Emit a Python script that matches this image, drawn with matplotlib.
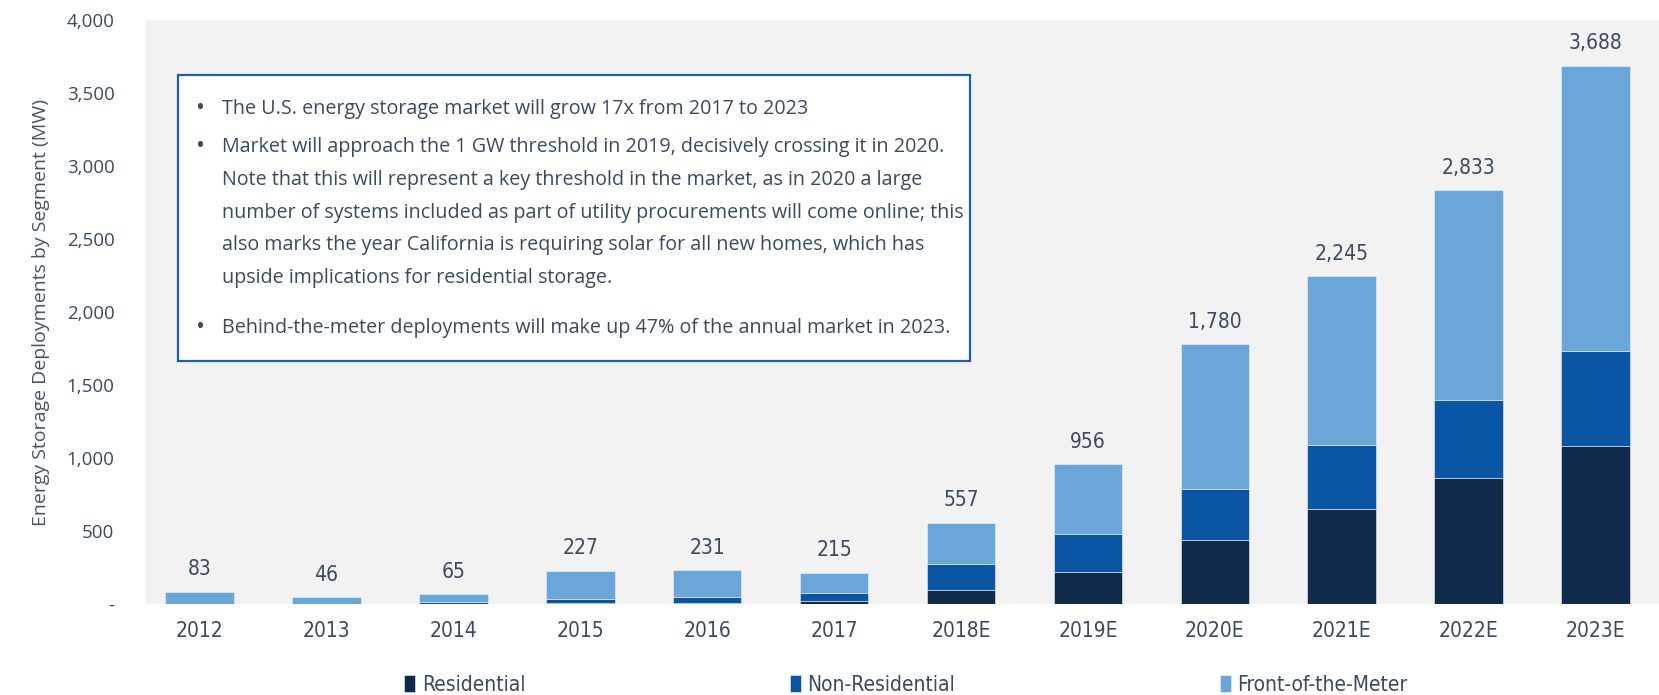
import numpy as np
import matplotlib.pyplot as plt
from matplotlib.patches import Rectangle
from matplotlib.ticker import FuncFormatter


# --------------------------------------------------
# Data (MW)
# --------------------------------------------------

years = ["2012", "2013", "2014", "2015", "2016", "2017",
         "2018E", "2019E", "2020E", "2021E", "2022E", "2023E"]

residential = [1, 1, 2, 5, 5, 18, 96, 217, 440, 648, 861, 1080]
non_residential = [1, 1, 10, 32, 44, 54, 178, 262, 348, 443, 539, 655]
totals = [83, 46, 65, 227, 231, 215, 557, 956, 1780, 2245, 2833, 3688]
front_of_meter = [t - r - n for t, r, n in zip(totals, residential, non_residential)]

bullets = [
    ["The U.S. energy storage market will grow 17x from 2017 to 2023"],
    ["Market will approach the 1 GW threshold in 2019, decisively crossing it in 2020.",
     "Note that this will represent a key threshold in the market, as in 2020 a large",
     "number of systems included as part of utility procurements will come online; this",
     "also marks the year California is requiring solar for all new homes, which has",
     "upside implications for residential storage."],
    ["Behind-the-meter deployments will make up 47% of the annual market in 2023."],
]

c_res = "#0f2a4a"
c_nonres = "#0b56a4"
c_ftm = "#6aa6d7"
text_col = "#3b4a5f"

narrow = dict(family="DejaVu Sans", stretch="condensed")
wide = ["Open Sans", "DejaVu Sans"]

# --------------------------------------------------
# Plot
# --------------------------------------------------

fig = plt.figure(figsize=(16.59, 6.95), dpi=100)
ax = fig.add_axes([0.0874, 0.131, 0.9126, 0.84])
ax.set_facecolor("#f2f2f2")

x = np.arange(len(years))
res = np.array(residential)
nonres = np.array(non_residential)
ftm = np.array(front_of_meter)

w = 0.54
ax.bar(x, res, w, color=c_res, label="Residential", edgecolor="#f2f2f2", linewidth=0.4)
ax.bar(x, nonres, w, bottom=res, color=c_nonres, label="Non-Residential",
       edgecolor="#f2f2f2", linewidth=0.4)
ax.bar(x, ftm, w, bottom=res + nonres, color=c_ftm, label="Front-of-the-Meter",
       edgecolor="#f2f2f2", linewidth=0.4)

for xi, t in zip(x, totals):
    ax.annotate(f"{t:,}", (xi, t), xytext=(0, 9), textcoords="offset points",
                ha="center", va="bottom", fontsize=15, color=text_col, **narrow)

ax.set_xlim(-0.43, 11.5)
ax.set_ylim(0, 4000)
ax.set_yticks(np.arange(0, 4001, 500))
ax.yaxis.set_major_formatter(FuncFormatter(lambda v, p: "-" if v == 0 else f"{int(v):,}"))
ax.set_xticks(x)
ax.set_xticklabels(years, fontsize=15, color=text_col, **narrow)
for lab in ax.get_yticklabels():
    lab.set_family(wide)
    lab.set_fontsize(13.5)
    lab.set_color(text_col)
ax.tick_params(length=0)
ax.tick_params(axis="x", pad=12)
ax.tick_params(axis="y", pad=22)
for s in ax.spines.values():
    s.set_visible(False)

ax.set_ylabel("Energy Storage Deployments by Segment (MW)", fontsize=14,
              color="#44546a", family=wide, labelpad=12)

# --------------------------------------------------
# Text box
# --------------------------------------------------

W, H = 1659, 695
box = Rectangle((178 / W, 1 - 361 / H), (970 - 178) / W, (361 - 75) / H,
                transform=fig.transFigure, facecolor="white", edgecolor="#1f5fa8",
                linewidth=1.6, zorder=5)
fig.patches.append(box)

line_ys = [109, 147, 180, 213, 245, 278, 328]
k = 0
for para in bullets:
    for j, line in enumerate(para):
        yy = 1 - line_ys[k] / H
        if j == 0:
            fig.text(196 / W, yy, "\u2022", fontsize=17, color=text_col,
                     va="center", ha="left", family=wide, zorder=6)
        fig.text(222 / W, yy, line, fontsize=14.2, color=text_col,
                 va="center", ha="left", family=wide, zorder=6)
        k += 1

# --------------------------------------------------
# Legend
# --------------------------------------------------

leg = fig.legend(loc="center", bbox_to_anchor=(0.546, 1 - 685 / H), ncol=3,
                 frameon=False, handlelength=0.55, handleheight=0.9,
                 handletextpad=0.3, columnspacing=12.7,
                 prop=dict(size=15, **narrow))
for t in leg.get_texts():
    t.set_color(text_col)

plt.savefig("out.png", dpi=100)
plt.close(fig)
